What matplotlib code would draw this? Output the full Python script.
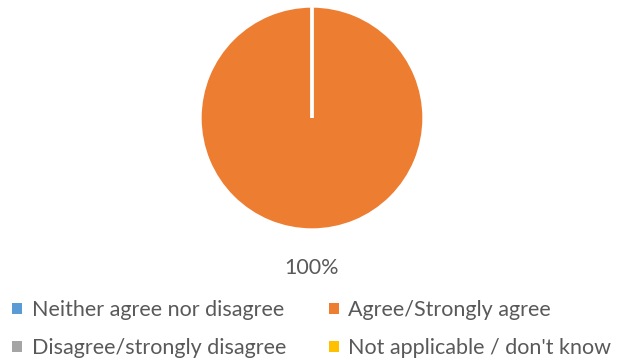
import matplotlib.pyplot as plt
from matplotlib.patches import Patch

categories = ["Neither agree nor disagree", "Agree/Strongly agree",
              "Disagree/strongly disagree", "Not applicable / don't know"]
values = [0, 100, 0, 0]
colors = ["#5B9BD5", "#ED7D31", "#A5A5A5", "#FFC000"]

plt.rcParams['font.family'] = ['Lato', 'DejaVu Sans']
txt = "#595959"

fig = plt.figure(figsize=(6.21, 3.61), dpi=100)
ax = fig.add_axes([200/621, 131/361, 224/621, 224/361])

labels = ["%d%%" % v if v > 0 else "" for v in values]
wedges, texts = ax.pie(values, colors=colors, startangle=90, counterclock=False,
                       labels=labels, labeldistance=1.34,
                       wedgeprops=dict(edgecolor="white", linewidth=2.4),
                       textprops=dict(color=txt, fontsize=15.5))
for t in texts:
    t.set_ha("center")
ax.set_xlim(-1, 1)
ax.set_ylim(-1, 1)
ax.set_aspect("equal")

# legend in row order: reorder for column fill
order = [0, 2, 1, 3]
handles = [Patch(facecolor=colors[i], edgecolor="none") for i in order]
fig.legend(handles, [categories[i] for i in order], ncol=2, loc="upper left",
           bbox_to_anchor=(8/621, 1 - 296/361), frameon=False, fontsize=15.5,
           labelcolor=txt, handlelength=0.45, handleheight=0.45,
           handletextpad=0.45, columnspacing=2.0, labelspacing=0.83,
           borderpad=0.2, borderaxespad=0)

fig.savefig("out.png", dpi=100)
